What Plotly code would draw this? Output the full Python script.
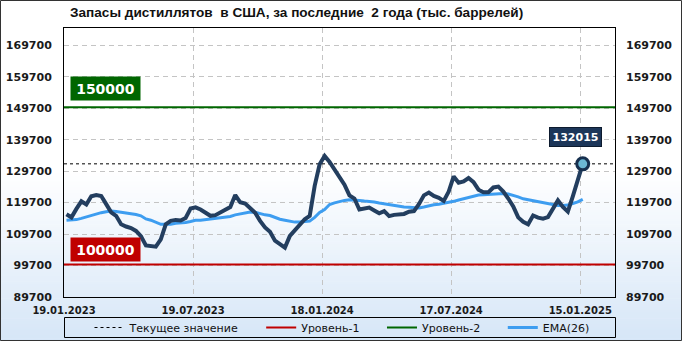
import plotly.graph_objects as go

# ---------------- data ----------------
tick_labels = ["19.01.2023", "19.07.2023", "18.01.2024", "17.07.2024", "15.01.2025"]
tick_index = [0, 26, 52, 78, 104]

stocks = [116000, 115000, 117700, 120100, 119100, 121700, 122100, 121800, 119200, 116600,
          115500, 112800, 112100, 111600, 110700, 109000, 106100, 105800, 105700, 108000,
          112800, 113900, 114200, 114000, 114800, 117800, 118200, 117500, 116600, 115500,
          115700, 116500, 117500, 118300, 122100, 119800, 119400, 118000, 116500, 113900,
          111800, 110400, 107600, 106500, 105400, 109100, 110800, 112500, 114400, 115500,
          125000, 131900, 134500, 132600, 130100, 127600, 125400, 122000, 121000, 117500,
          117700, 118100, 117200, 116300, 117000, 115400, 115800, 116000, 116100, 116800,
          117000, 119200, 122000, 122900, 121800, 121200, 120200, 123200, 128000, 126000,
          126400, 127500, 126200, 123800, 123000, 123000, 124500, 124800, 123200, 121000,
          118500, 115000, 113600, 112800, 115600, 114900, 114600, 115100, 117500, 120400,
          118300, 116800, 121700, 127200, 132015]

ema26 = [114100, 114100, 114300, 114700, 115200, 115600, 116100, 116500, 116800, 117000,
         116900, 116700, 116400, 116300, 115900, 115500, 114500, 114100, 113400, 112800,
         112800, 112800, 113100, 113200, 113400, 113700, 114100, 114100, 114300, 114400,
         114500, 114700, 115000, 115300, 115800, 116100, 116400, 116700, 116600, 116100,
         115800, 115600, 115000, 114400, 114100, 113700, 113500, 113500, 113700, 113800,
         115000, 116600, 117500, 119100, 119600, 120100, 120400, 120600, 120600, 120400,
         120200, 120100, 119900, 119600, 119300, 119000, 118800, 118600, 118300, 118200,
         118000, 118000, 118300, 118700, 119000, 119200, 119500, 119600, 120100, 120500,
         120900, 121400, 121800, 122100, 122200, 122300, 122500, 122600, 122600, 122400,
         122000, 121500, 120900, 120600, 120200, 119900, 119600, 119200, 119000, 118800,
         118800, 118900, 119400, 119900, 120700]

level1 = 100000
level2 = 150000
y_ticks = [89700, 99700, 109700, 119700, 129700, 139700, 149700, 159700, 169700]

title_text = "Запасы дистиллятов \u00a0в США, за последние \u00a02 года (тыс. баррелей)"
legend_names = ["Текущее значение", "Уровень-1", "Уровень-2", "EMA(26)"]

# ---------------- geometry helpers (styling only) ----------------
W, H = 682, 341
PL, PR, PT, PB = 64, 615, 28, 297


def pxx(px):
    return (px - PL) / (PR - PL)


def pxy(py):
    return (PB - py) / (PB - PT)


pad_sp = "\u00a0" * 5  # extra spacing between legend entries

x = list(range(len(stocks)))
x_lo, x_hi = -0.5, len(stocks) + 5.5
y_lo = 89700
y_hi = 89700 + 10000 * (PB - PT) / 31.47
current = stocks[-1]
tick_pos = [i - 0.5 for i in tick_index]

fig = go.Figure()

fig.add_trace(go.Scatter(x=[x_lo, x_hi], y=[current, current], mode="lines",
                         line=dict(color="black", width=1, dash="3px,3px"),
                         name=legend_names[0] + pad_sp, hoverinfo="skip"))
fig.add_trace(go.Scatter(x=[x_lo, x_hi], y=[level1, level1], mode="lines",
                         line=dict(color="#c00000", width=2), name=legend_names[1] + pad_sp))
fig.add_trace(go.Scatter(x=[x_lo, x_hi], y=[level2, level2], mode="lines",
                         line=dict(color="#006600", width=2), name=legend_names[2] + pad_sp))
fig.add_trace(go.Scatter(x=x, y=ema26, mode="lines",
                         line=dict(color="#3d9df0", width=3), name=legend_names[3]))
fig.add_trace(go.Scatter(x=x, y=stocks, mode="lines",
                         line=dict(color="#233e5f", width=4), showlegend=False))
fig.add_trace(go.Scatter(x=[x[-1]], y=[current], mode="markers",
                         marker=dict(size=12, color="#6cb8d4", line=dict(color="#17304f", width=3)),
                         showlegend=False))

# background gradient (whole picture)
shapes = []
steps = 60
top_c = (255, 255, 255)
bot_c = (214, 230, 247)
start_py = 170
for k in range(steps):
    y0p = start_py + (H - start_py) * k / steps
    y1p = start_py + (H - start_py) * (k + 1) / steps + 0.6
    t = (k + 0.5) / steps
    c = tuple(int(round(top_c[j] + (bot_c[j] - top_c[j]) * t)) for j in range(3))
    shapes.append(dict(type="rect", xref="paper", yref="paper", layer="below",
                       x0=pxx(0), x1=pxx(W), y0=pxy(y1p), y1=pxy(y0p),
                       fillcolor="rgb(%d,%d,%d)" % c, line=dict(width=0)))
# outer frame
shapes.append(dict(type="rect", xref="paper", yref="paper", layer="above",
                   x0=pxx(0.5), x1=pxx(W - 0.5), y0=pxy(H - 0.5), y1=pxy(0.5),
                   line=dict(color="#333333", width=1)))
# legend frame
shapes.append(dict(type="rect", xref="paper", yref="paper", layer="above",
                   x0=pxx(64.5), x1=pxx(615.5), y0=pxy(337.5), y1=pxy(317.5),
                   line=dict(color="black", width=1)))

axis_font = dict(family="DejaVu Sans", size=11, color="#1a1a1a", weight="bold")

fig.update_layout(
    width=W, height=H,
    margin=dict(l=PL, r=W - PR, t=PT, b=H - PB, pad=0, autoexpand=False),
    paper_bgcolor="white",
    plot_bgcolor="rgba(0,0,0,0)",
    shapes=shapes,
    showlegend=True,
    legend=dict(orientation="h", x=pxx(342), xanchor="center", y=pxy(327.5), yanchor="middle",
                bgcolor="rgba(0,0,0,0)", borderwidth=0,
                font=dict(family="DejaVu Sans", size=11, color="#111111"),
                itemwidth=30, tracegroupgap=0),
    xaxis=dict(range=[x_lo, x_hi], tickmode="array", tickvals=tick_pos, ticktext=tick_labels,
               showgrid=True, gridcolor="#c4c4c4", griddash="5px,4px", gridwidth=1,
               showline=True, linecolor="black", linewidth=1, mirror=True,
               zeroline=False, ticks="", ticklabelstandoff=4,
               tickfont=dict(family="DejaVu Sans", size=10, color="#1a1a1a", weight="bold")),
    yaxis=dict(range=[y_lo, y_hi], tickmode="array", tickvals=y_ticks,
               ticktext=[str(v) for v in y_ticks],
               showgrid=True, gridcolor="#c4c4c4", griddash="5px,4px", gridwidth=1,
               showline=True, linecolor="black", linewidth=1, mirror=True,
               zeroline=False, ticks="", ticklabelstandoff=9, tickfont=axis_font),
    yaxis2=dict(range=[y_lo, y_hi], overlaying="y", side="right", anchor="x",
                tickmode="array", tickvals=y_ticks, ticktext=[str(v) for v in y_ticks],
                showgrid=False, zeroline=False, showline=False, ticks="",
                ticklabelstandoff=10, tickfont=axis_font),
    annotations=[
        dict(text=title_text, xref="paper", yref="paper", x=pxx(68), y=pxy(12),
             xanchor="left", yanchor="middle", showarrow=False,
             font=dict(family="Liberation Sans", size=13.6, color="#111111", weight="bold")),
        dict(text=str(level2), xref="x", yref="y", x=x_lo, y=level2, xanchor="left",
             yanchor="bottom", xshift=6, yshift=6, showarrow=False, bgcolor="#006600",
             width=65, height=19, borderpad=2,
             font=dict(family="DejaVu Sans", size=14, color="white", weight="bold")),
        dict(text=str(level1), xref="x", yref="y", x=x_lo, y=level1, xanchor="left",
             yanchor="bottom", xshift=6, yshift=3, showarrow=False, bgcolor="#c00000",
             width=65, height=19, borderpad=2,
             font=dict(family="DejaVu Sans", size=14, color="white", weight="bold")),
        dict(text=str(current), xref="x", yref="y", x=x[-1], y=current, xanchor="center",
             yanchor="bottom", xshift=-7, yshift=17, showarrow=False, bgcolor="#1c3659",
             bordercolor="#0d1b2e", borderwidth=1, width=47, height=14, borderpad=2,
             font=dict(family="DejaVu Sans", size=11, color="white", weight="bold")),
    ],
)

# invisible helper so the right axis is drawn
fig.add_trace(go.Scatter(x=[x_lo], y=[y_lo], yaxis="y2", mode="markers",
                         marker=dict(opacity=0), showlegend=False, hoverinfo="skip"))

fig.write_html("out.html")
